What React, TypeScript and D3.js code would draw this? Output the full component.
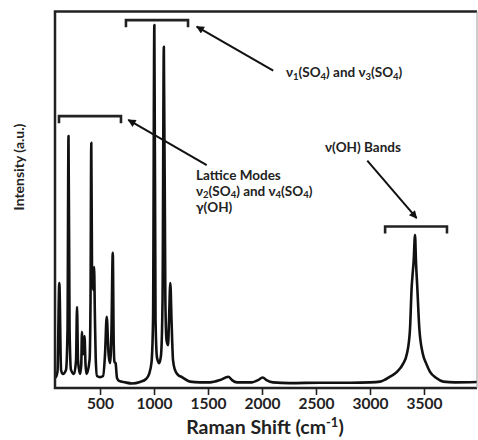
import { useEffect, useRef } from "react";
import * as d3 from "d3";

// spectrum: Raman shift (cm-1) and intensity (a.u., 0-100)
const wavenumber = [
  88, 106, 123, 139, 157, 185, 199, 208, 218, 231, 259, 278, 287, 296, 315,
  326, 333, 344, 356, 366, 375, 403, 412, 419, 426, 438, 445, 452, 460, 472,
  500, 528, 546, 562, 579, 593, 606, 618, 627, 634, 644, 657, 676, 731, 796,
  870, 926, 954, 977, 991, 1003, 1014, 1028, 1049, 1065, 1079, 1091, 1105,
  1116, 1130, 1139, 1151, 1162, 1176, 1194, 1222, 1259, 1333, 1426, 1519,
  1611, 1688, 1722, 1769, 1907, 1963, 2006, 2046, 2102, 2259, 2537, 2815,
  3000, 3093, 3185, 3250, 3306, 3343, 3370, 3386, 3394, 3404, 3417, 3426,
  3438, 3456, 3488, 3519, 3556, 3611, 3679, 3787, 3991,
];
const intensity = [
  2.7, 4.3, 27.9, 4.8, 3.7, 4.8, 15.4, 66.9, 15.4, 4.8, 3.7, 7.4, 21.5, 7.4, 3.7,
  6.1, 14.9, 9.0, 13.8, 6.1, 3.7, 7.4, 23.4, 65.1, 30.0, 26.0, 32.1, 20.0, 8.0, 3.2,
  2.9, 3.2, 8.8, 18.9, 9.0, 6.6, 15.4, 35.9, 11.4, 6.9, 6.6, 2.7, 1.9, 1.5, 1.2,
  1.6, 2.4, 3.7, 6.9, 18.1, 96.4, 18.1, 8.0, 6.6, 8.8, 23.4, 90.6, 23.4,
  12.7, 11.4, 18.1, 27.9, 18.1, 7.4, 4.8, 3.5, 2.9, 1.7, 1.5, 1.5,
  2.1, 3.0, 2.1, 1.5, 1.5, 2.1, 2.8, 2.0, 1.5, 1.3, 1.4, 1.4,
  1.5, 1.7, 3.0, 4.3, 6.4, 9.2, 15.4, 26.8, 30.0, 33.5, 40.6, 33.5,
  26.8, 16.2, 9.2, 6.6, 4.3, 2.7, 1.7, 1.5, 1.6,
];
const xTicks = [500, 1000, 1500, 2000, 2500, 3000, 3500];

// brackets over the band groups
const bracketFrom = [120, 740, 3140];
const bracketTo = [694, 1315, 3713];
const bracketLevel = [72.2, 97.7, 42.9];

// arrows from the labels to the brackets
const arrowTail = [
  [1488, 59.2],
  [2104, 84.3],
  [2975, 60.4],
];
const arrowTip = [
  [762, 71.2],
  [1395, 96.0],
  [3432, 45.1],
];

// label text, split into [text, isSubscript]
const labelX = [2222, 1389, 1389, 1389, 2583];
const labelLevel = [82.6, 55.3, 51.0, 46.7, 62.7];
const labelParts: [string, boolean][][] = [
  [["ν", false], ["1", true], ["(SO", false], ["4", true], [") and ν", false], ["3", true], ["(SO", false], ["4", true], [")", false]],
  [["Lattice Modes", false]],
  [["ν", false], ["2", true], ["(SO", false], ["4", true], [") and ν", false], ["4", true], ["(SO", false], ["4", true], [")", false]],
  [["γ(OH)", false]],
  [["ν(OH) Bands", false]],
];

const FONT = "Lato, 'Open Sans', 'DejaVu Sans', sans-serif";

export default function App() {
  const ref = useRef<SVGSVGElement>(null);

  useEffect(() => {
    const svg = d3.select(ref.current);
    svg.selectAll("*").remove();

    const left = 55;
    const right = 477;
    const top = 11.5;
    const bottom = 388;

    const x = d3.scaleLinear().domain([83, 3991]).range([left, right]);
    const y = d3.scaleLinear().domain([0, 100]).range([bottom, top]);

    svg
      .append("defs")
      .append("marker")
      .attr("id", "head")
      .attr("viewBox", "0 0 10 10")
      .attr("refX", 9)
      .attr("refY", 5)
      .attr("markerWidth", 10)
      .attr("markerHeight", 8)
      .attr("markerUnits", "userSpaceOnUse")
      .attr("orient", "auto")
      .append("path")
      .attr("d", "M0,0 L10,5 L0,10 Z")
      .attr("fill", "#111");

    // spectrum
    const pts = wavenumber.map((w, i) => [w, intensity[i]] as [number, number]);
    const line = d3
      .line<[number, number]>()
      .x((d) => x(d[0]))
      .y((d) => y(d[1]))
      .curve(d3.curveMonotoneX);

    svg
      .append("path")
      .datum(pts)
      .attr("d", line)
      .attr("fill", "none")
      .attr("stroke", "#111")
      .attr("stroke-width", 2.6)
      .attr("stroke-linejoin", "round");

    // frame
    svg
      .append("path")
      .attr("d", `M${right},${top} H${left} V${bottom} H${right}`)
      .attr("fill", "none")
      .attr("stroke", "#222")
      .attr("stroke-width", 2.5);
    svg
      .append("line")
      .attr("x1", right)
      .attr("x2", right)
      .attr("y1", top)
      .attr("y2", bottom)
      .attr("stroke", "#999")
      .attr("stroke-width", 1);

    // x axis
    const axis = svg
      .append("g")
      .attr("transform", `translate(0,${bottom})`)
      .call(d3.axisBottom(x).tickValues(xTicks).tickSize(7).tickPadding(3).tickFormat(d3.format("d")));
    axis.select(".domain").remove();
    axis.selectAll(".tick line").attr("stroke", "#222").attr("stroke-width", 1.6);
    axis
      .selectAll(".tick text")
      .attr("fill", "#222")
      .attr("font-family", FONT)
      .attr("font-weight", 700)
      .attr("font-size", 15.5);

    svg
      .append("text")
      .attr("x", 265)
      .attr("y", 434)
      .attr("text-anchor", "middle")
      .attr("font-family", FONT)
      .attr("font-weight", 700)
      .attr("font-size", 19.5)
      .attr("fill", "#222")
      .text("Raman Shift (cm")
      .call((t) => t.append("tspan").attr("dy", -7).attr("font-size", 13).text("-1"))
      .call((t) => t.append("tspan").attr("dy", 7).text(")"));

    svg
      .append("text")
      .attr("transform", `translate(24,167) rotate(-90)`)
      .attr("text-anchor", "middle")
      .attr("font-family", FONT)
      .attr("font-weight", 700)
      .attr("font-size", 14)
      .attr("fill", "#222")
      .text("Intensity (a.u.)");

    // brackets
    bracketFrom.forEach((b, i) => {
      const yy = y(bracketLevel[i]);
      svg
        .append("path")
        .attr("d", `M${x(b)},${yy + 7} V${yy} H${x(bracketTo[i])} V${yy + 7}`)
        .attr("fill", "none")
        .attr("stroke", "#222")
        .attr("stroke-width", 2.6);
    });

    // arrows
    arrowTail.forEach((t, i) => {
      svg
        .append("line")
        .attr("x1", x(t[0]))
        .attr("y1", y(t[1]))
        .attr("x2", x(arrowTip[i][0]))
        .attr("y2", y(arrowTip[i][1]))
        .attr("stroke", "#111")
        .attr("stroke-width", 2)
        .attr("marker-end", "url(#head)");
    });

    // labels
    labelParts.forEach((parts, i) => {
      const txt = svg
        .append("text")
        .attr("x", x(labelX[i]))
        .attr("y", y(labelLevel[i]))
        .attr("font-family", FONT)
        .attr("font-weight", 700)
        .attr("font-size", 13.5)
        .attr("fill", "#222");
      let shifted = false;
      parts.forEach(([s, sub]) => {
        const ts = txt.append("tspan").text(s);
        if (sub && !shifted) {
          ts.attr("dy", 2.5).attr("font-size", 9.5);
          shifted = true;
        } else if (sub) {
          ts.attr("font-size", 9.5);
        } else if (shifted) {
          ts.attr("dy", -2.5);
          shifted = false;
        }
      });
    });
  }, []);

  return (
    <svg
      ref={ref}
      width={478}
      height={440}
      style={{ position: "absolute", left: 0, top: 0, background: "#fff" }}
    ></svg>
  );
}
